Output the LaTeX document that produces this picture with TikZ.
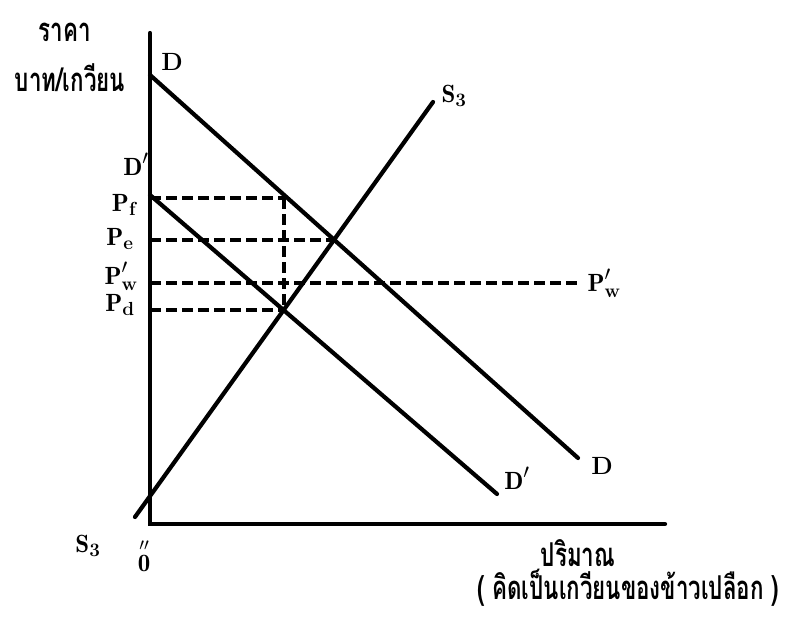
\documentclass[tikz,border=0pt]{standalone}
\usepackage{fontspec}
\usepackage{amsmath}
\newfontfamily\thaifont[Script=Thai]{Loma}
\newcommand\sbx[1]{\text{\fontsize{19}{19}\selectfont\bfseries #1}}
\newcommand\prm{\text{\fontsize{22}{22}\selectfont\bfseries\raisebox{2bp}{$\prime$}}}
\begin{document}
\begin{tikzpicture}[x=1bp,y=-1bp,
  axis/.style={line width=4.2bp, line cap=round, line join=miter},
  curve/.style={line width=4.2bp, line cap=round},
  guide/.style={line width=3.8bp, dash pattern=on 11bp off 5bp},
  lab/.style={font=\fontsize{25}{28}\selectfont\bfseries, inner sep=0pt},
  thai/.style={font=\thaifont\bfseries\fontsize{33}{36}\selectfont, inner sep=0pt}]
\useasboundingbox (0,0) rectangle (792,623);
% axes
\coordinate (O) at (150,524);
\coordinate (Ytop) at (150,33);
\coordinate (Xend) at (665,524);
\draw[axis] (Ytop) -- (O) -- (Xend);
% curves
\coordinate (D1) at (150,75);
\coordinate (D2) at (578,458);
\coordinate (Dq1) at (150,195);
\coordinate (Dq2) at (497,494);
\coordinate (S1) at (135,517);
\coordinate (S2) at (433,102);
\draw[curve] (D1) -- (D2);
\draw[curve] (Dq1) -- (Dq2);
\draw[curve] (S1) -- (S2);
% guides
\coordinate (E) at (334.1,239.8);
\coordinate (Qd) at (283.6,310.1);
\coordinate (Qf) at (283.6,198);
\coordinate (Pf) at (150,198);
\coordinate (Pe) at (150,239.8);
\coordinate (Pw) at (150,283);
\coordinate (Pd) at (150,310.1);
\coordinate (PwEnd) at (580,283);
\draw[guide] (Pf) -- (Qf);
\draw[guide] (Pe) -- (E);
\draw[guide] (Pw) -- (PwEnd);
\draw[guide] (Pd) -- (Qd);
\draw[guide] (Qf) -- (Qd);
% labels
\node[thai] (lprice) at (65,32) {\scalebox{0.68}[1]{ราคา}};
\node[thai] (lunit) at (70,78) {\scalebox{0.68}[1]{บาท/เกวียน}};
\node[lab] (lDtop) at (172,62) {D};
\node[lab] (lDq) at (136,164) {$\mathbf{D}^{\prm}$};
\node[lab] (lPf) at (124,205) {$\mathbf{P}_{\sbx{f}}$};
\node[lab] (lPe) at (120,239) {$\mathbf{P}_{\sbx{e}}$};
\node[lab] (lPw) at (121,276) {$\mathbf{P}^{\prm}_{\sbx{w}}$};
\node[lab] (lPd) at (120,305) {$\mathbf{P}_{\sbx{d}}$};
\node[lab] (lS3top) at (454,96) {$\mathbf{S}_{\sbx{3}}$};
\node[lab] (lPwR) at (604,283) {$\mathbf{P}^{\prm}_{\sbx{w}}$};
\node[lab] (lDR) at (602,466) {D};
\node[lab] (lDqB) at (517,478) {$\mathbf{D}^{\prm}$};
\node[lab] (lS3bot) at (88,546) {$\mathbf{S}_{\sbx{3}}$};
\node[lab] (lO) at (144,555) {$\overset{\prime\prime}{\mathbf{0}}$};
\node[thai] (lqty) at (578,553) {\scalebox{0.68}[1]{ปริมาณ}};
\node[thai] (lqsub) at (628,588) {\scalebox{0.68}[1]{( คิดเป็นเกวียนของข้าวเปลือก )}};
\end{tikzpicture}
\end{document}
